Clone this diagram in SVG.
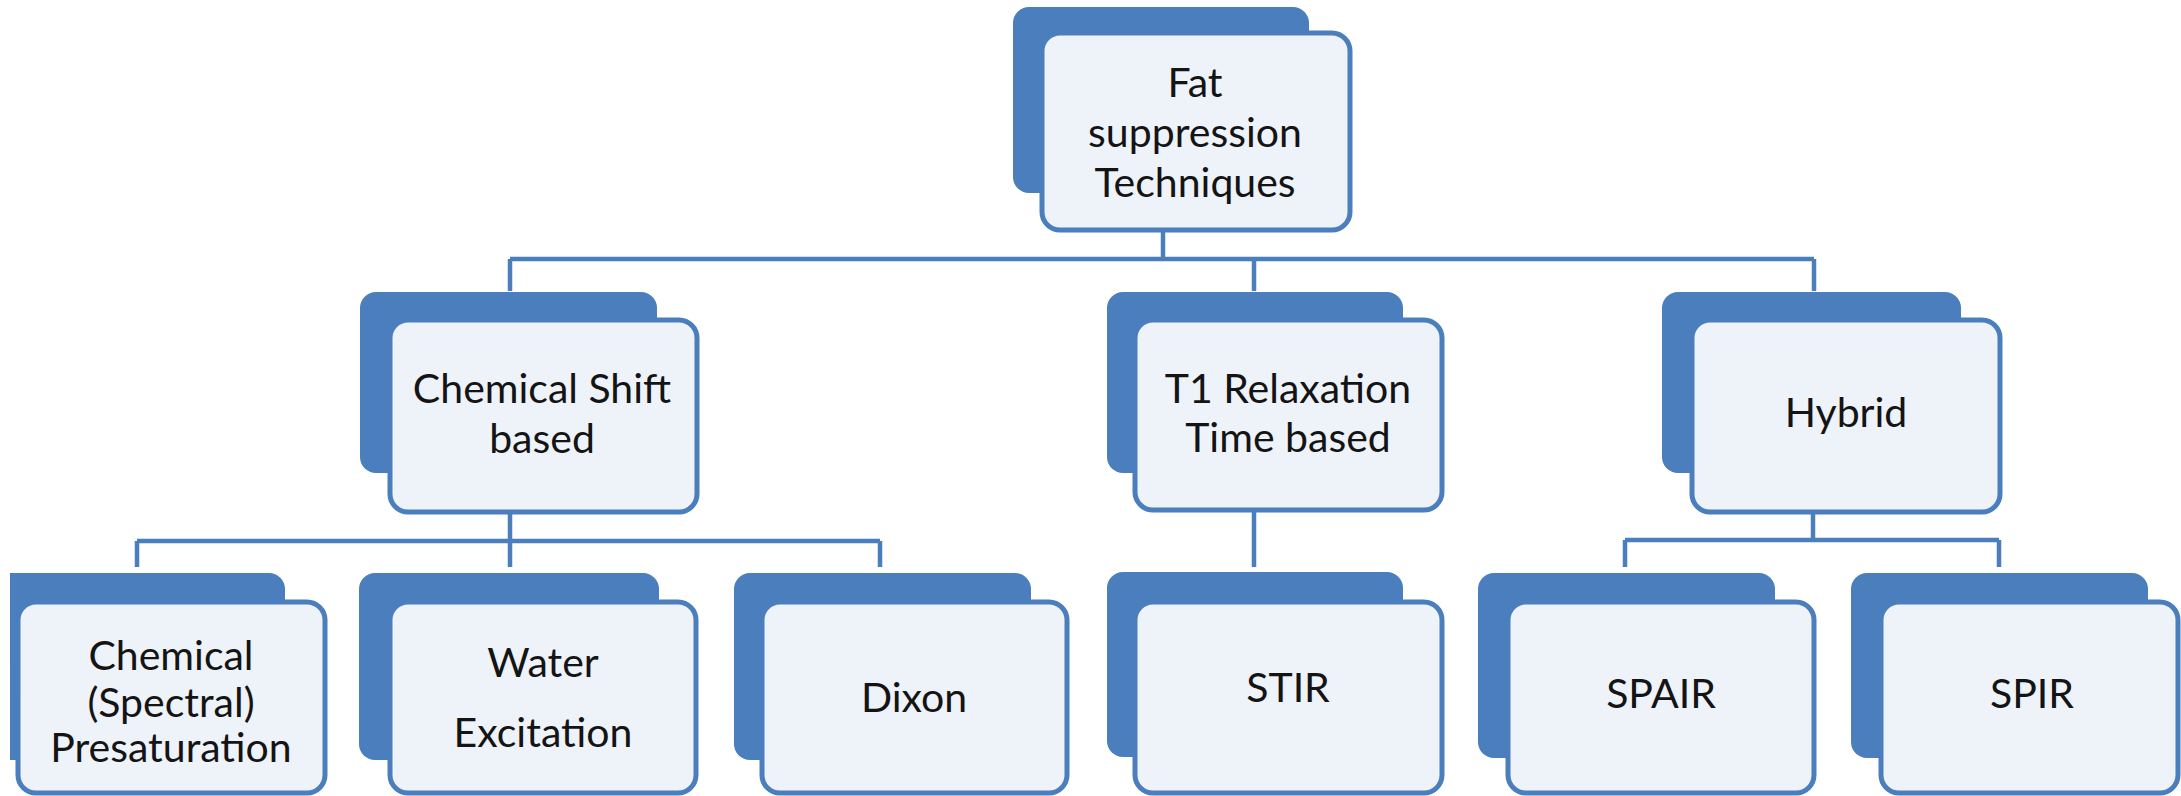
<svg xmlns="http://www.w3.org/2000/svg" width="2181" height="796" viewBox="0 0 2181 796">
<style>
.back{fill:#4A7EBC;}
.front{fill:#EEF2F9;stroke:#4A7EBC;stroke-width:5;}
.t{font-family:Lato,"Liberation Sans",sans-serif;font-size:41px;fill:#141414;text-anchor:middle;}
.c{fill:none;stroke:#4A7EBC;stroke-width:4.5;}
</style>
<rect width="2181" height="796" fill="#ffffff"/>
<g id="connectors">
<path class="c" d="M1163 230V259M510 259H1814M510 259V291M1254 259V291M1814 259V291"/>
<path class="c" d="M510 513V567M137 541H880M137 541V567M880 541V567"/>
<path class="c" d="M1254 510V567"/>
<path class="c" d="M1813 512V540M1625 540H1999M1625 540V567M1999 540V567"/>
</g>
<g id="n-fat">
<rect class="back" x="1013" y="7" width="296" height="186" rx="16"/>
<rect class="front" x="1042" y="33" width="308" height="197" rx="18"/>
<text class="t" x="1195" y="97">Fat</text>
<text class="t" x="1195" y="147">suppression</text>
<text class="t" x="1195" y="197">Techniques</text>
</g>
<g id="n-chemshift">
<rect class="back" x="360" y="292" width="297" height="181" rx="16"/>
<rect class="front" x="390" y="320" width="307" height="192" rx="18"/>
<text class="t" x="542" y="403">Chemical Shift</text>
<text class="t" x="542" y="453">based</text>
</g>
<g id="n-t1">
<rect class="back" x="1107" y="292" width="296" height="181" rx="16"/>
<rect class="front" x="1135" y="320" width="307" height="190" rx="18"/>
<text class="t" x="1288" y="403">T1 Relaxation</text>
<text class="t" x="1288" y="452">Time based</text>
</g>
<g id="n-hybrid">
<rect class="back" x="1662" y="292" width="299" height="181" rx="16"/>
<rect class="front" x="1692" y="320" width="308" height="192" rx="18"/>
<text class="t" x="1846" y="427">Hybrid</text>
</g>
<g id="n-presat">
<path class="back" d="M10 573H269A16 16 0 0 1 285 589V744A16 16 0 0 1 269 760H10Z"/>
<rect class="front" x="18" y="602" width="307" height="191" rx="18"/>
<text class="t" x="171" y="670">Chemical</text>
<text class="t" x="171" y="717">(Spectral)</text>
<text class="t" x="171" y="762">Presaturation</text>
</g>
<g id="n-water">
<rect class="back" x="359" y="573" width="300" height="187" rx="16"/>
<rect class="front" x="390" y="602" width="306" height="191" rx="18"/>
<text class="t" x="543" y="677">Water</text>
<text class="t" x="543" y="747">Excitation</text>
</g>
<g id="n-dixon">
<rect class="back" x="734" y="573" width="297" height="187" rx="16"/>
<rect class="front" x="762" y="602" width="305" height="191" rx="18"/>
<text class="t" x="914" y="712">Dixon</text>
</g>
<g id="n-stir">
<rect class="back" x="1107" y="572" width="296" height="185" rx="16"/>
<rect class="front" x="1135" y="602" width="307" height="191" rx="18"/>
<text class="t" x="1288" y="702">STIR</text>
</g>
<g id="n-spair">
<rect class="back" x="1478" y="573" width="297" height="185" rx="16"/>
<rect class="front" x="1508" y="602" width="306" height="191" rx="18"/>
<text class="t" x="1661" y="708">SPAIR</text>
</g>
<g id="n-spir">
<rect class="back" x="1851" y="573" width="297" height="185" rx="16"/>
<rect class="front" x="1881" y="602" width="297" height="191" rx="18"/>
<text class="t" x="2032" y="708">SPIR</text>
</g>
</svg>
